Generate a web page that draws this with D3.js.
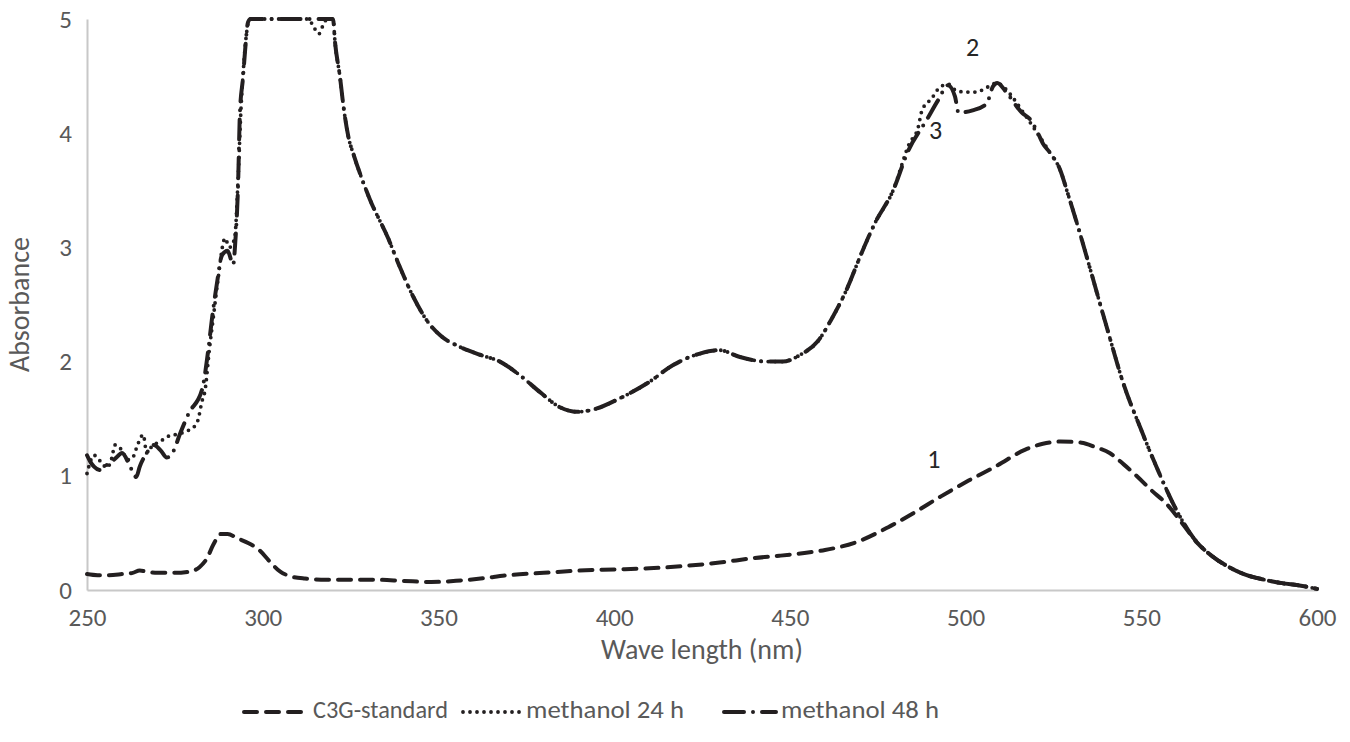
<!DOCTYPE html>
<html><head><meta charset="utf-8">
<script src="https://cdn.jsdelivr.net/npm/d3@7/dist/d3.min.js"></script>
<style>
html,body{margin:0;padding:0;background:#fff;}
svg text{font-family:Carlito, Calibri, Lato, "Open Sans", sans-serif;}
</style></head>
<body>
<svg id="chart" width="1350" height="742"></svg>
<script>
// ---- data ----
const xTicks = [250, 300, 350, 400, 450, 500, 550, 600];
const yTicks = [0, 1, 2, 3, 4, 5];
const seriesNames = ["C3G-standard", "methanol 24 h", "methanol 48 h"];

const c3gWave = [250,253,256,260,263,265,267,270,275,279,282,284,286,288,290,293,296,299,302,305,308,312,318,325,332,340,348,355,362,370,380,390,400,410,420,430,440,447,453,460,469,478,485,493,501,509,517,522,527,533,537,541,545,549,553,557,562,566,570,575,580,585,590,595,600];
const c3gAbs  = [0.14,0.13,0.13,0.14,0.15,0.17,0.16,0.15,0.15,0.16,0.20,0.27,0.40,0.49,0.49,0.45,0.41,0.35,0.25,0.16,0.12,0.10,0.09,0.09,0.09,0.08,0.07,0.08,0.10,0.13,0.15,0.17,0.18,0.19,0.21,0.24,0.28,0.30,0.32,0.35,0.42,0.55,0.67,0.82,0.96,1.09,1.23,1.28,1.30,1.29,1.25,1.20,1.10,0.99,0.87,0.76,0.57,0.41,0.30,0.20,0.13,0.09,0.06,0.04,0.01];

const m24Wave = [250,252,254,255.7,257,258,260,261.5,263,264.5,266,267,268.5,270.8,272.7,276.5,279,280.5,281.6,282.7,283.6,284.8,286,287.2,289.3,290.5,292,293,293.8,294.6,295.5,296.3,313,314.5,316,317.5,318.5,320,320.6,322,323,324.3,326,328,330.5,335.7,339,342.8,346.7,350.5,356,361.8,367.5,373.2,379,384.6,389.4,394,401.7,409.4,416.8,424.4,430,435.8,443.5,448,453,458,462,466,470,474,479.4,484,486.5,487.6,490.5,492,495,497,500,503,506,509,511,513.5,516,520,524,526.9,529,532,535,540,545,550,555,560,565,570,575,580,585,590,595,600];
const m24Abs  = [1.02,1.18,1.12,1.07,1.15,1.27,1.22,1.14,1.16,1.28,1.36,1.20,1.26,1.30,1.34,1.37,1.40,1.43,1.49,1.65,1.75,2.10,2.40,2.70,3.08,3.00,3.08,3.60,4.20,4.60,4.90,5.00,5.00,4.93,4.87,4.97,5.00,5.00,4.79,4.49,4.23,3.98,3.80,3.62,3.42,3.08,2.83,2.57,2.36,2.23,2.13,2.06,2.00,1.88,1.73,1.60,1.56,1.58,1.68,1.81,1.97,2.07,2.10,2.04,2.00,2.00,2.06,2.18,2.38,2.62,2.92,3.20,3.50,3.91,4.05,4.20,4.31,4.38,4.43,4.38,4.36,4.36,4.40,4.44,4.40,4.31,4.20,4.02,3.83,3.68,3.48,3.18,2.86,2.32,1.80,1.40,1.03,0.70,0.45,0.30,0.20,0.13,0.09,0.06,0.04,0.01];

const m48Wave = [250,251,252,253.7,255,258,260,262,264,265,267,269,271,272.7,274.5,276.5,279,282.7,284.5,285.5,287,288.4,290,291.6,292.2,293,293.5,294.4,295,295.8,296.5,320,320.6,322,323,324.3,326,328,330.5,335.7,339,342.8,346.7,350.5,356,361.8,367.5,373.2,379,384.6,389.4,394,401.7,409.4,416.8,424.4,430,435.8,443.5,448,453,458,462,466,470,474,479.4,483.6,489,492.2,495,497,498,502,506,507.8,509,511.8,516,518.4,520.6,522,524,526.9,529,532,535,540,545,550,555,560,565,570,575,580,585,590,595,600];
const m48Abs  = [1.18,1.12,1.08,1.05,1.08,1.15,1.20,1.10,0.99,1.08,1.20,1.27,1.22,1.16,1.21,1.37,1.55,1.75,2.10,2.36,2.69,2.93,2.97,2.85,3.05,3.56,4.17,4.49,4.73,4.97,5.00,5.00,4.79,4.49,4.23,3.98,3.80,3.62,3.42,3.08,2.83,2.57,2.36,2.23,2.13,2.06,2.00,1.88,1.73,1.60,1.56,1.58,1.68,1.81,1.97,2.07,2.10,2.04,2.00,2.00,2.06,2.18,2.38,2.62,2.92,3.20,3.50,3.84,4.12,4.29,4.42,4.32,4.18,4.20,4.26,4.41,4.44,4.35,4.18,4.12,4.00,3.91,3.83,3.68,3.48,3.18,2.86,2.32,1.80,1.40,1.03,0.70,0.45,0.30,0.20,0.13,0.09,0.06,0.04,0.01];

const curveLabels = [
  {text: "1", wave: 491, abs: 1.12},
  {text: "2", wave: 502, abs: 4.73},
  {text: "3", wave: 491.5, abs: 4.0}
];

// ---- layout ----
const svg = d3.select("#chart");
const plotL = 87, plotR = 1317, plotT = 19, plotB = 590;
const x = d3.scaleLinear().domain([250, 600]).range([plotL, plotR]);
const y = d3.scaleLinear().domain([0, 5]).range([plotB, plotT]);
const ink = "#231f20";
const grey = "#595959";

const styles = [
  {dash: "13,9", width: 4},
  {dash: "0,7", width: 3.8},
  {dash: "20,9,0,9", width: 4}
];

// axes
const xAxis = svg.append("g").attr("transform", `translate(0,${plotB})`)
  .call(d3.axisBottom(x).tickValues(xTicks).tickFormat(d3.format("d")).tickSize(0).tickPadding(18));
xAxis.select(".domain").attr("stroke", "#c8c8c8").attr("stroke-width", 2);
xAxis.selectAll("text").attr("fill", grey).style("font-size", "25px");

const yAxis = svg.append("g").attr("transform", `translate(${plotL},0)`)
  .call(d3.axisLeft(y).tickValues(yTicks).tickFormat(d3.format("d")).tickSize(0).tickPadding(15));
yAxis.select(".domain").attr("stroke", "#c8c8c8").attr("stroke-width", 2);
yAxis.selectAll("text").attr("fill", grey).style("font-size", "25px");

// axis titles
svg.append("text").attr("x", (plotL + plotR) / 2).attr("y", 652)
  .attr("text-anchor", "middle").attr("dominant-baseline", "middle")
  .attr("fill", grey).style("font-size", "28px").text("Wave length (nm)");
svg.append("text").attr("transform", `translate(22,${(plotT + plotB) / 2}) rotate(-90)`)
  .attr("text-anchor", "middle").attr("dominant-baseline", "middle")
  .attr("fill", grey).style("font-size", "28px").text("Absorbance");

// lines
const line = d3.line().x(d => x(d[0])).y(d => y(d[1])).curve(d3.curveMonotoneX);
const data = [
  d3.zip(c3gWave, c3gAbs),
  d3.zip(m24Wave, m24Abs),
  d3.zip(m48Wave, m48Abs)
];
data.forEach((d, i) => {
  svg.append("path").datum(d).attr("d", line)
    .attr("fill", "none").attr("stroke", ink)
    .attr("stroke-width", styles[i].width)
    .attr("stroke-dasharray", styles[i].dash)
    .attr("stroke-linecap", "round").attr("stroke-linejoin", "round");
});

// curve labels
curveLabels.forEach(l => {
  svg.append("text").attr("x", x(l.wave)).attr("y", y(l.abs))
    .attr("text-anchor", "middle").attr("dominant-baseline", "middle")
    .attr("fill", "#262626").style("font-size", "26px").text(l.text);
});

// legend
const legendY = 712;
const legendItems = [
  {x0: 244, x1: 308, tx: 313, w: 135},
  {x0: 463, x1: 521, tx: 526, w: 158},
  {x0: 724, x1: 776, tx: 781, w: 158}
];
legendItems.forEach((it, i) => {
  svg.append("line").attr("x1", it.x0).attr("x2", it.x1)
    .attr("y1", legendY).attr("y2", legendY)
    .attr("stroke", ink).attr("stroke-width", styles[i].width)
    .attr("stroke-dasharray", styles[i].dash).attr("stroke-linecap", "round");
  svg.append("text").attr("x", it.tx).attr("y", legendY)
    .attr("dominant-baseline", "middle").attr("fill", grey)
    .attr("textLength", it.w).attr("lengthAdjust", "spacingAndGlyphs")
    .style("font-size", "25px").text(seriesNames[i]);
});
</script>
</body></html>
